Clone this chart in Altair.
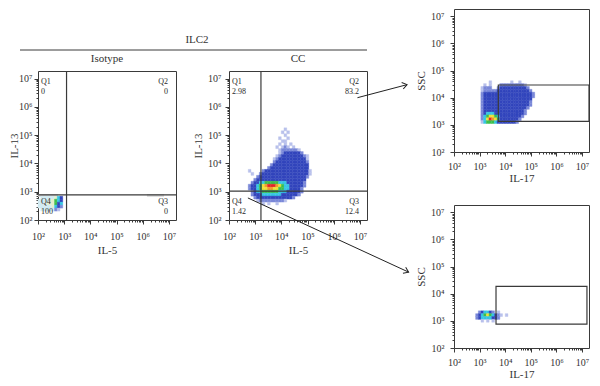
import altair as alt
import pandas as pd

FONT = "Liberation Serif"
TXT = "#333333"
LINE = "#3a3a3a"
ARROW = "#222222"

# ---------------- axis data ----------------
DOMAIN_EXP = [2.0, 7.27]
DOMAIN = [10 ** DOMAIN_EXP[0], 10 ** DOMAIN_EXP[1]]
DECADES = [2, 3, 4, 5, 6, 7]
MULTS = [1, 2, 3, 4, 5, 6, 7, 8, 9]
TICK_VALUES = [float(m * 10 ** d) for d in DECADES[:-1] for m in MULTS] + [float(10 ** DECADES[-1])]
SUPERS = "⁰¹²³⁴⁵⁶⁷⁸⁹"

# ---------------- texts ----------------
HEADER = "ILC2"
PANEL_TITLES = ["Isotype", "CC"]
QUAD_NAMES = ["Q1", "Q2", "Q3", "Q4"]
ISO_QUAD = ["0", "0", "0", "100"]
CC_QUAD = ["2.98", "83.2", "12.4", "1.42"]
X_TITLES = ["IL-5", "IL-5", "IL-17", "IL-17"]
Y_TITLES = ["IL-13", "IL-13", "SSC", "SSC"]

# quadrant thresholds (log10)
ISO_Q = [3.09, 2.89]
CC_Q = [3.22, 3.02]
# gates (log10: x0, x1, y0, y1)
RT_GATE = [3.73, 7.27, 3.13, 4.47]
RB_GATE = [3.64, 7.19, 2.88, 4.27]

# density levels
LEVELS = [".", ",", "b", "c", "g", "y", "o", "r", "p", "q"]
LEVEL_COLORS = ["#b9c1ec", "#7a88d8", "#3346bd", "#36c6e4", "#3cbf4c",
                "#f0e03a", "#f29a2c", "#e2262b", "#d2ecf2", "#e4f0cd"]

STEP = 0.105

# Isotype density map (top row first), origin log x 2.0, bottom row log y 2.316
ISO_ROWS = [
    " pppppqcb",
    "ppppqqgcb",
    "pppqqqgbc",
    "pppppqcb,",
    " ppppp,. ",
]
ISO_ORIGIN = [2.0, 2.316]
ISO_BANDS = [[2.0, 2.76, 2.82, 2.92], [6.16, 6.81, 2.82, 2.92]]

# CC density map, origin log x 2.525, bottom row log y 2.53
CC_ROWS = [
    "               .         ",
    "              . .        ",
    "               .         ",
    "             .  .        ",
    "              ..         ",
    "             . . .       ",
    "            . .,. .      ",
    "             .,,,,,,.    ",
    "             .,bbbbbb,   ",
    "            .,bbbbbbbb,. ",
    "           .,bbbbbbbbbb. ",
    "           ,bbbbbbbbbbb, ",
    "          ,bbbbbbbbbbbbb ",
    "         ,bbbbbbbbbbbbbb ",
    "  .    ,bbbbbbbbbbbbbbbb.",
    "   .  ,bbbbbbbbbbbbbbbbb.",
    "     ,bbbbbbbbbbbbbbbbb, ",
    "    ,bbbbbbbbbbbbbbbbbb  ",
    "   ,bbccgggggcccbbbbbb,  ",
    "  ,bbcgyorrroygccbbbbb,  ",
    "  ,bbcgyyooyyggccbbbb,   ",
    "   ,bccggggggcccbbbbb,   ",
    "   ,bbbcccccccbbbbbb,    ",
    "    ,bbbbbbbbbbbbb,      ",
    "     .,,,,,,,,,.         ",
    "       . .  .            ",
]
CC_ORIGIN = [2.525, 2.53]

# right-top (Q2 gated) density map, origin log x 3.05, bottom row log y 3.05
RT_ROWS = [
    "   .       .  .     ",
    " . .   ,,,,,,,,,.   ",
    ".,,,  ,bbbbbbbbbb,  ",
    ".,,,,,bbbbbbbbbbbb, ",
    ",bbbbbbbbbbbbbbbbbb,",
    ",bbbbbbbbbbbbbbbbbb,",
    ",bbbbbbbbbbbbbbbbbb ",
    ",bbbbbbbbbbbbbbbbb, ",
    ",bbbbbbbbbbbbbbbbb, ",
    ",bbbbbbbbbbbbbbbb,  ",
    ",bbbbbbbbbbbbbbb,   ",
    ",bcccbbbbbbbbbbb,   ",
    ",cgyygcbbbbbbbb,    ",
    ",cyroygbbbbbbb,     ",
    ".cgggcbbbbbbb,      ",
]
RT_ORIGIN = [3.05, 3.05]

# right-bottom (Q4 gated) density map, origin log x 2.74, bottom row log y 2.95
RB_ROWS = [
    "  ,bccb, .  ",
    " ,bcgygcb,. .",
    " ,bccccbb,  ",
    "   . . .    ",
]
RB_ORIGIN = [2.74, 2.95]

# arrows drawn in CC panel data space (log10 start x,y / end x,y), head angle
ARROWS = [[6.905, 6.326, 8.80, 6.787], [2.722, 2.780, 8.86, 0.156]]
ARROW_ANGLES = [346.0, 24.3]


def grid_cells(rows, origin):
    recs = []
    n = len(rows)
    for r, row in enumerate(rows):
        ly = origin[1] + STEP * (n - 1 - r)
        for c, ch in enumerate(row):
            if ch != " ":
                lx = origin[0] + STEP * c
                recs.append(dict(x=10 ** lx, x2=10 ** (lx + STEP), y=10 ** ly,
                                 y2=10 ** (ly + STEP), level=ch))
    return pd.DataFrame(recs)


IS_DECADE = "abs(log(datum.value)/LN10 - round(log(datum.value)/LN10)) < 0.01"
LABEL_EXPR = (IS_DECADE + " ? '10' + substring('" + SUPERS + "', round(log(datum.value)/LN10), "
              "round(log(datum.value)/LN10) + 1) : ''")

cscale = alt.Scale(domain=LEVELS, range=LEVEL_COLORS)


def panel(rows, origin, quad, quad_vals, xt, yt, w, h, ylab_pad, ytitle_pad, xlab_pad, xtitle_pad,
          title=None, gate=None, bands=None, arrows=False):
    sc = alt.Scale(type="log", domain=DOMAIN, nice=False)
    tick_size = {"condition": {"test": IS_DECADE, "value": 4}, "value": 2}
    xaxis = alt.Axis(title=xt, values=TICK_VALUES, labelExpr=LABEL_EXPR, tickSize=tick_size,
                     labelPadding=xlab_pad, titlePadding=xtitle_pad)
    yaxis = alt.Axis(title=yt, values=TICK_VALUES, labelExpr=LABEL_EXPR, tickSize=tick_size,
                     labelPadding=ylab_pad, titlePadding=ytitle_pad)

    def X(f):
        return alt.X(f + ":Q", scale=sc, axis=xaxis)

    def Y(f):
        return alt.Y(f + ":Q", scale=sc, axis=yaxis)

    layers = []
    if bands is not None:
        bdf = pd.DataFrame([dict(x=10 ** b[0], x2=10 ** b[1], y=10 ** b[2], y2=10 ** b[3]) for b in bands])
        layers.append(alt.Chart(bdf).mark_rect(color="#dadada").encode(
            x=X("x"), x2="x2", y=Y("y"), y2="y2"))
    cells = grid_cells(rows, origin)
    layers.append(alt.Chart(cells).mark_rect(strokeWidth=0.4).encode(
        x=X("x"), x2="x2", y=Y("y"), y2="y2",
        color=alt.Color("level:N", scale=cscale, legend=None),
        stroke=alt.Stroke("level:N", scale=cscale, legend=None)))
    if quad is not None:
        layers.append(alt.Chart(pd.DataFrame({"x": [10 ** quad[0]]})).mark_rule(
            color=LINE, strokeWidth=1.2).encode(x=X("x")))
        layers.append(alt.Chart(pd.DataFrame({"y": [10 ** quad[1]]})).mark_rule(
            color=LINE, strokeWidth=1.2).encode(y=Y("y")))
        corners = [
            (0, DOMAIN[0], DOMAIN[1], "left", 3, 7),
            (1, DOMAIN[1], DOMAIN[1], "right", -8, 7),
            (2, DOMAIN[1], DOMAIN[0], "right", -8, -22),
            (3, DOMAIN[0], DOMAIN[0], "left", 3, -22),
        ]
        for i, cx, cy, al, dx, dy in corners:
            tdf = pd.DataFrame({"x": [cx], "y": [cy], "t": [QUAD_NAMES[i] + "\n" + quad_vals[i]]})
            layers.append(alt.Chart(tdf).mark_text(
                align=al, baseline="top", dx=dx, dy=dy, lineBreak="\n", lineHeight=10,
                font=FONT, fontSize=8, color="#2a2a2a").encode(x=X("x"), y=Y("y"), text="t:N"))
    if gate is not None:
        gdf = pd.DataFrame({"x": [10 ** gate[0]], "x2": [10 ** gate[1]],
                            "y": [10 ** gate[2]], "y2": [10 ** gate[3]]})
        layers.append(alt.Chart(gdf).mark_rect(fillOpacity=0, stroke=LINE, strokeWidth=1.2).encode(
            x=X("x"), x2="x2", y=Y("y"), y2="y2"))
    if arrows:
        recs, heads = [], []
        for i, a in enumerate(ARROWS):
            recs.append(dict(id=i, o=0, x=10 ** a[0], y=10 ** a[1]))
            recs.append(dict(id=i, o=1, x=10 ** a[2], y=10 ** a[3]))
            heads.append(dict(x=10 ** a[2], y=10 ** a[3], a=ARROW_ANGLES[i]))
        layers.append(alt.Chart(pd.DataFrame(recs)).mark_line(color=ARROW, strokeWidth=1).encode(
            x=X("x"), y=Y("y"), detail="id:N", order="o:Q"))
        layers.append(alt.Chart(pd.DataFrame(heads)).mark_point(
            shape="M -1 -0.7 L 0 0 L -1 0.7", filled=False, size=90, stroke=ARROW,
            strokeWidth=1, opacity=1).encode(
            x=X("x"), y=Y("y"), angle=alt.Angle("a:Q", scale=None)))
    ch = alt.layer(*layers).properties(width=w, height=h)
    if title is not None:
        ch = ch.properties(title=title)
    return ch


iso = panel(ISO_ROWS, ISO_ORIGIN, ISO_Q, ISO_QUAD, X_TITLES[0], Y_TITLES[0], 138, 149, 2, -1, 7, 3,
            title=PANEL_TITLES[0], bands=ISO_BANDS)
cc = panel(CC_ROWS, CC_ORIGIN, CC_Q, CC_QUAD, X_TITLES[1], Y_TITLES[1], 138, 149, 4, 4, 7, 3,
           title=PANEL_TITLES[1], arrows=True)
rt = panel(RT_ROWS, RT_ORIGIN, None, None, X_TITLES[2], Y_TITLES[2], 135, 143, 6, 4, 5, 1, gate=RT_GATE)
rb = panel(RB_ROWS, RB_ORIGIN, None, None, X_TITLES[3], Y_TITLES[3], 135, 143, 6, 4, 5, 1, gate=RB_GATE)

hdf = pd.DataFrame({"t": [HEADER]})
header = alt.layer(
    alt.Chart(hdf).mark_text(font=FONT, fontSize=11, color=TXT, baseline="middle").encode(
        x=alt.value(159), y=alt.value(31), text="t:N"),
    alt.Chart(hdf).mark_rule(color=LINE, strokeWidth=1).encode(
        x=alt.value(-18), x2=alt.value(329), y=alt.value(41)),
).properties(width=329, height=41, view=alt.ViewBackground(stroke="transparent"))

left = alt.vconcat(header, alt.hconcat(iso, cc, spacing=53, bounds="flush"), spacing=21, bounds="flush")
right = alt.vconcat(rt, rb, spacing=53, bounds="flush")

# nested concat groups count as zero-width in a flush layout, so the spacing
# carries the left column's width plus the gap
chart = alt.hconcat(left, right, spacing=416, bounds="flush").properties(
    padding={"left": 0, "top": 0, "right": 0, "bottom": 0}, background="white"
).configure_view(stroke=LINE, strokeWidth=1).configure_axis(
    labelFont=FONT, titleFont=FONT, labelFontSize=10, titleFontSize=11, titleFontWeight="normal",
    labelColor=TXT, titleColor=TXT, tickColor=LINE, tickWidth=1, grid=False, domain=False,
    labelFlush=False, labelOverlap=False
).configure_title(font=FONT, fontSize=11, fontWeight="normal", color=TXT, offset=6)

chart.save("out.html", embed_options={"renderer": "svg", "actions": False})
